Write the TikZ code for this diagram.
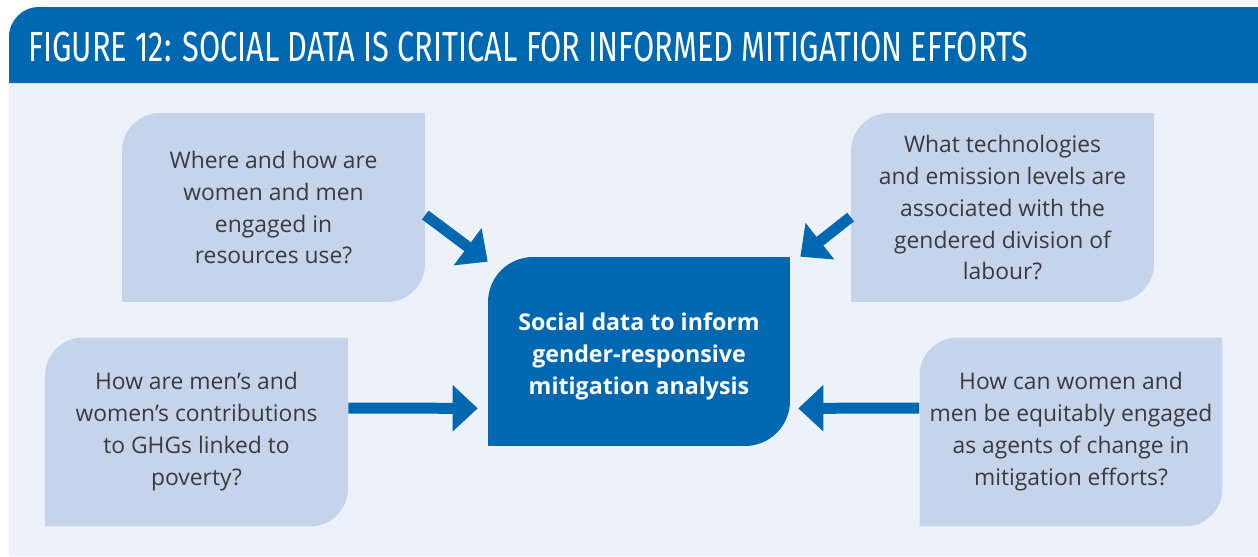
\documentclass[tikz,border=0pt]{standalone}
\usepackage{fontspec}
\setmainfont{Open Sans}
\newfontfamily\titlefont[FakeStretch=0.73]{Fira Sans}
\usetikzlibrary{positioning}
\usetikzlibrary{arrows.meta}
\definecolor{brand}{RGB}{0,103,177}
\definecolor{panel}{RGB}{237,242,250}
\definecolor{query}{RGB}{198,212,235}
\definecolor{ink}{RGB}{58,58,62}

% leaf shape: rounded top left and bottom right corners
\newcommand\leaffill[2]{%
  \fill[#1] (path picture bounding box.south west)
    -- ([yshift=-#2]path picture bounding box.north west)
    arc[start angle=180,end angle=90,radius=#2]
    -- (path picture bounding box.north east)
    -- ([yshift=#2]path picture bounding box.south east)
    arc[start angle=0,end angle=-90,radius=#2] -- cycle;}

\begin{document}
\begin{tikzpicture}[%
  x=0.02cm, y=-0.02cm,
  qbox/.style={minimum width=6.06cm, minimum height=3.78cm, inner sep=0pt,
    align=center, text=ink, font=\fontsize{13}{18.2}\selectfont,
    path picture={\leaffill{query}{0.76cm}}},
  hubbox/.style={minimum width=6.04cm, minimum height=3.78cm, inner sep=0pt,
    align=center, text=white, font=\bfseries\fontsize{13.2}{18.2}\selectfont,
    path picture={\leaffill{brand}{0.9cm}}},
  flow/.style={brand, line width=0.22cm,
    -{Triangle[length=0.5cm,width=0.9cm]}},
]

  \useasboundingbox (0,0) rectangle (1258,556);

  % Panel and title band
  \fill[panel] (9,82) rectangle (1258,556);
  \fill[brand] (9,83) -- (9,37) arc[start angle=180,end angle=90,radius=0.6cm]
    -- (1258,7) -- (1258,83) -- cycle;
  \node[anchor=base west, inner sep=0pt, text=white,
    font=\titlefont\fontsize{24}{28}\selectfont] (title) at (28,61)
    {FIGURE 12: SOCIAL DATA IS CRITICAL FOR INFORMED MITIGATION EFFORTS};

  \node[hubbox] (hub) at (639,351.5)
    {\raisebox{-0.1cm}[\height][\depth]{\parbox{6cm}{\centering Social data to inform\\gender-responsive\\mitigation analysis}}};

  \node[qbox] (tl) at (273.5,207.5)
    {Where and how are\\women and men\\engaged in\\resources use?};
  \node[qbox] (tr) at (1002.5,207.5)
    {What technologies\\and emission levels are\\associated with the\\gendered division of\\labour?};
  \node[qbox] (bl) at (196.5,432)
    {How are men’s and\\women’s contributions\\to GHGs linked to\\poverty?};
  \node[qbox] (br) at (1071,432)
    {How can women and\\men be equitably engaged\\as agents of change in\\mitigation efforts?};

  \draw[flow] ([yshift=-0.15cm]tl.east) -- ([yshift=-0.1cm]hub.north west);
  \draw[flow] ([yshift=-0.19cm]tr.west) -- ([xshift=0.2cm]hub.north east);
  \draw[flow] ([yshift=0.48cm]bl.east) -- ([xshift=-0.2cm,yshift=0.76cm]hub.south west);
  \draw[flow] ([yshift=0.48cm]br.west) -- ([xshift=0.16cm,yshift=0.76cm]hub.south east);

\end{tikzpicture}
\end{document}
